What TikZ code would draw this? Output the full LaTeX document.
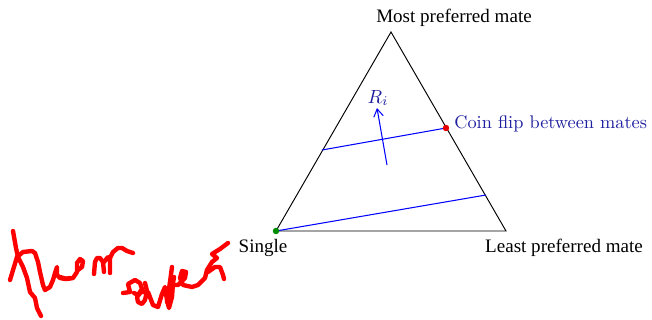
\documentclass[tikz,border=0pt]{standalone}
\usepackage{fontspec}
\newfontfamily\tnr{Liberation Serif}
\usetikzlibrary{arrows.meta}
\definecolor{labblue}{RGB}{30,30,160}
\tikzset{
  tri/.style={draw=black, line width=0.5pt},
  sep/.style={draw=blue, line width=0.55pt},
  corner/.style={font=\tnr\fontsize{10}{12}\selectfont, inner sep=0pt},
  blabel/.style={text=labblue, font=\fontsize{9.6}{12}\selectfont, inner sep=0pt},
  scribble/.style={draw=red, line width=2.3pt, line cap=round, line join=round},
  dot/.style={circle, inner sep=0pt, minimum size=3.4pt}
}
\begin{document}
\begin{tikzpicture}[x=0.525pt, y=-0.525pt]
\useasboundingbox (0,0) rectangle (652,320);
\coordinate (top) at (391,32);
\coordinate (bl) at (276,231);
\coordinate (br) at (506,231);
\draw[tri] (top) -- (bl) -- (br) -- cycle;
\coordinate (ul) at (322,150);
\coordinate (coin) at (446,128);
\coordinate (lr) at (486,195);
\draw[sep] (ul) -- (coin);
\draw[sep] (bl) -- (lr);
\coordinate (arS) at (387,165);
\coordinate (arE) at (377,108);
\draw[sep, -{Straight Barb[length=4pt,width=5pt]}] (arS) -- (arE);
\node[blabel] (ri) at (378,98) {$R_i$};
\node[dot, fill=red!90!black] (cd) at (coin) {};
\node[dot, fill=green!55!black] (sd) at (bl) {};
\node[blabel, anchor=west] (cf) at (454,124) {Coin flip between mates};
\node[corner] (most) at (454,18) {Most preferred mate};
\node[corner] (single) at (263,248) {Single};
\node[corner] (least) at (564,248) {Least preferred mate};
% handwritten red scribble
\draw[scribble] (13,231) -- (16,248) -- (18,257) -- (23,267) -- (27,278) -- (30,292) -- (35,298) -- (37,308) -- (41,316);
\draw[scribble] (10,280) -- (17,257) -- (23,252) -- (32,251) -- (35,253) -- (38,262) -- (40,272) -- (43,285) -- (45,290) -- (50,287) -- (53,280) -- (55,273) -- (57,267) -- (57,275) -- (60,278) -- (65,279) -- (70,278);
\draw[scribble] (60,277) -- (67,279) -- (73,278) -- (77,272) -- (77,263) -- (80,259) -- (83,261) -- (82,267) -- (78,270);
\draw[scribble] (94,274) -- (95,262) -- (97,258) -- (100,258) -- (103,262) -- (104,272);
\draw[scribble] (104,262) -- (108,257) -- (110,258) -- (110,273);
\draw[scribble] (110,258) -- (113,252) -- (118,248) -- (122,248) -- (127,251) -- (133,253);
\draw[scribble] (123,293) -- (130,292) -- (128,284) -- (135,280) -- (140,283) -- (142,289) -- (138,295) -- (134,293);
\draw[scribble] (145,283) -- (147,291) -- (145,300) -- (142,304) -- (138,302) -- (137,297) -- (141,292) -- (148,292) -- (153,305) -- (158,307) -- (162,294) -- (165,287) -- (167,300) -- (169,308) -- (172,297) -- (173,283) -- (174,277);
\draw[scribble] (167,302) -- (170,282) -- (172,267);
\draw[scribble] (172,285) -- (178,285) -- (185,278) -- (186,272) -- (182,271) -- (180,278) -- (183,285) -- (192,287) -- (198,285) -- (205,278) -- (207,270) -- (212,262) -- (217,258) -- (212,254) -- (220,249) -- (228,243);
\draw[scribble] (208,272) -- (215,267) -- (220,267) -- (223,275) -- (224,279);
\end{tikzpicture}
\end{document}
